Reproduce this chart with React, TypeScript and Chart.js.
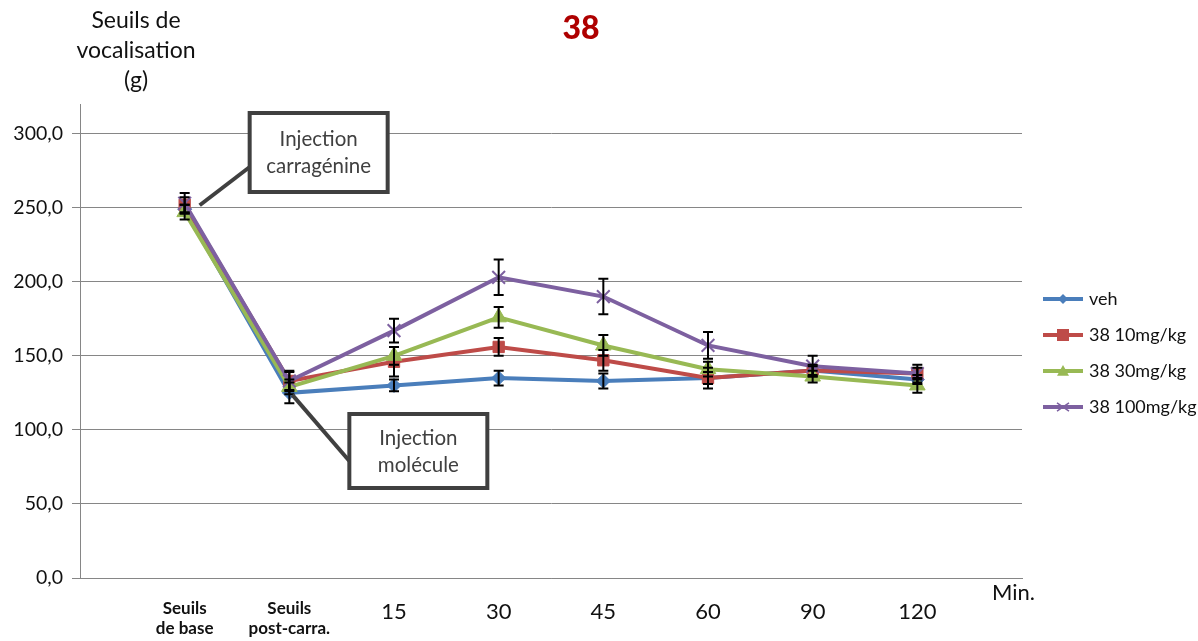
import React, { useEffect, useRef } from "react";
import { Chart, registerables } from "chart.js";

Chart.register(...registerables);

const categories: (string | string[])[] = [
  ["Seuils", "de base"],
  ["Seuils", "post-carra."],
  "15",
  "30",
  "45",
  "60",
  "90",
  "120",
];

const seriesNames = ["veh", "38 10mg/kg", "38 30mg/kg", "38 100mg/kg"];
const vehValues = [249, 125, 130, 135, 133, 135, 140, 134];
const mg10Values = [252, 133, 146, 156, 147, 135, 140, 138];
const mg30Values = [247, 129, 150, 176, 157, 141, 136, 130];
const mg100Values = [253, 133, 167, 203, 190, 157, 143, 138];

const vehErr = [3, 7, 4, 5, 5, 4, 3, 3];
const mg10Err = [5, 7, 10, 6, 7, 7, 4, 6];
const mg30Err = [5, 5, 6, 7, 7, 5, 4, 5];
const mg100Err = [7, 6, 8, 12, 12, 9, 7, 4];

const yTicks = [0, 50, 100, 150, 200, 250, 300];

const colors = ["#4A7EBB", "#BE4B48", "#98B954", "#7D60A0"];
const pointStyles = ["rectRot", "rect", "triangle", "crossRot"];
const pointRadii = [7, 8, 9, 9];

const FONT = "Lato, 'Open Sans', sans-serif";

function drawMarker(ctx: CanvasRenderingContext2D, style: string, x: number, y: number, r: number, color: string) {
  ctx.save();
  ctx.fillStyle = color;
  ctx.strokeStyle = color;
  ctx.beginPath();
  if (style === "rectRot") {
    ctx.moveTo(x, y - r);
    ctx.lineTo(x + r, y);
    ctx.lineTo(x, y + r);
    ctx.lineTo(x - r, y);
    ctx.closePath();
    ctx.fill();
  } else if (style === "rect") {
    ctx.rect(x - r, y - r, 2 * r, 2 * r);
    ctx.fill();
  } else if (style === "triangle") {
    ctx.moveTo(x, y - r);
    ctx.lineTo(x + r, y + r * 0.8);
    ctx.lineTo(x - r, y + r * 0.8);
    ctx.closePath();
    ctx.fill();
  } else {
    ctx.lineWidth = 1.5;
    ctx.moveTo(x - r, y - r * 0.7);
    ctx.lineTo(x + r, y + r * 0.7);
    ctx.moveTo(x - r, y + r * 0.7);
    ctx.lineTo(x + r, y - r * 0.7);
    ctx.stroke();
  }
  ctx.restore();
}

const errors = [vehErr, mg10Err, mg30Err, mg100Err];

const overlayPlugin = {
  id: "overlay",
  afterDatasetsDraw(chart: any) {
    const ctx = chart.ctx as CanvasRenderingContext2D;
    const xs = chart.scales.x;
    const ys = chart.scales.y;
    ctx.save();
    ctx.strokeStyle = "#000";
    ctx.lineWidth = 2;
    chart.data.datasets.forEach((ds: any, di: number) => {
      ds.data.forEach((v: number | null, i: number) => {
        if (v == null) return;
        const e = errors[di][i - 1];
        const x = xs.getPixelForValue(i);
        const yt = ys.getPixelForValue(v + e);
        const yb = ys.getPixelForValue(v - e);
        ctx.beginPath();
        ctx.moveTo(x, yt);
        ctx.lineTo(x, yb);
        ctx.moveTo(x - 5, yt);
        ctx.lineTo(x + 5, yt);
        ctx.moveTo(x - 5, yb);
        ctx.lineTo(x + 5, yb);
        ctx.stroke();
      });
    });
    ctx.restore();
  },
  afterDraw(chart: any) {
    const ctx = chart.ctx as CanvasRenderingContext2D;
    const xs = chart.scales.x;
    const ys = chart.scales.y;
    ctx.save();
    // Title
    ctx.fillStyle = "#AE0000";
    ctx.font = `900 32px ${FONT}`;
    ctx.textAlign = "center";
    ctx.textBaseline = "middle";
    ctx.fillText("38", 581, 29);
    // Y title
    ctx.fillStyle = "#111";
    ctx.font = `23px ${FONT}`;
    ctx.fillText("Seuils de", 136, 21);
    ctx.fillText("vocalisation", 136, 51);
    ctx.fillText("(g)", 136, 81);
    // Min.
    ctx.textAlign = "left";
    ctx.font = `22px ${FONT}`;
    ctx.fillText("Min.", 992, 593);

    // Annotations
    const drawBox = (left: number, top: number, w: number, h: number, lines: string[], fromX: number, fromY: number, toX: number, toY: number) => {
      ctx.strokeStyle = "#404040";
      ctx.lineWidth = 4;
      ctx.beginPath();
      ctx.moveTo(fromX, fromY);
      ctx.lineTo(toX, toY);
      ctx.stroke();
      ctx.fillStyle = "#fff";
      ctx.fillRect(left, top, w, h);
      ctx.strokeRect(left, top, w, h);
      ctx.fillStyle = "#404040";
      ctx.font = `20.5px ${FONT}`;
      ctx.textAlign = "center";
      ctx.textBaseline = "middle";
      lines.forEach((l, k) => ctx.fillText(l, left + w / 2, top + h / 2 - 13 + k * 27));
    };
    const p1x = xs.getPixelForValue(1);
    const p1y = ys.getPixelForValue(mg100Values[0]);
    drawBox(p1x + 65, 113, 138, 79, ["Injection", "carragénine"], p1x + 65, 167, p1x + 15, p1y + 2);
    const p2x = xs.getPixelForValue(2);
    const p2y = ys.getPixelForValue(vehValues[1]);
    drawBox(p2x + 60, 414, 138, 74, ["Injection", "molécule"], p2x + 60, 461, p2x + 3, p2y + 2);

    // Legend
    const ly0 = 299;
    seriesNames.forEach((name, i) => {
      const y = ly0 + i * 36;
      ctx.strokeStyle = colors[i];
      ctx.lineWidth = 4;
      ctx.beginPath();
      ctx.moveTo(1043, y);
      ctx.lineTo(1083, y);
      ctx.stroke();
      drawMarker(ctx, pointStyles[i], 1063, y, i === 0 ? 5 : 6, colors[i]);
      ctx.fillStyle = "#111";
      ctx.font = `18px ${FONT}`;
      ctx.textAlign = "left";
      ctx.textBaseline = "middle";
      ctx.fillText(name, 1089, y);
    });
    ctx.restore();
  },
};

export default function App() {
  const ref = useRef<HTMLCanvasElement>(null);
  useEffect(() => {
    if (!ref.current) return;
    const pad = (a: number[]) => [null, ...a, null];
    const all = [vehValues, mg10Values, mg30Values, mg100Values];
    const chart = new Chart(ref.current, {
      type: "line",
      data: {
        labels: ["", ...categories, ""],
        datasets: all.map((vals, i) => ({
          label: seriesNames[i],
          data: pad(vals),
          borderColor: colors[i],
          backgroundColor: colors[i],
          borderWidth: 4,
          pointStyle: pointStyles[i] as any,
          pointRadius: pointRadii[i],
          pointBorderWidth: i === 3 ? 2 : 1,
          pointBackgroundColor: colors[i],
          pointBorderColor: colors[i],
          tension: 0,
          order: 3 - i,
        })) as any,
      },
      options: {
        animation: false,
        responsive: false,
        layout: { padding: { left: 0, top: 104, right: 176, bottom: 0 } },
        plugins: {
          legend: { display: false },
          tooltip: { enabled: false },
          title: { display: false },
        },
        scales: {
          x: {
            type: "category",
            offset: false,
            grid: { display: false, drawTicks: false },
            border: { display: true, color: "#868686", width: 1 },
            ticks: {
              autoSkip: false,
              maxRotation: 0,
              minRotation: 0,
              padding: 21,
              color: "#111",
              font: (c: any) =>
                c.index <= 2
                  ? { family: FONT, size: 17, weight: "bold" as any, lineHeight: 1.15 }
                  : { family: FONT, size: 22, lineHeight: 1.2 },
            },
            afterFit: (s: any) => {
              s.height = 63;
            },
          },
          y: {
            min: 0,
            max: 320,
            grid: { color: "#868686", tickLength: 8, lineWidth: 1 },
            border: { display: true, color: "#868686", width: 1 },
            ticks: {
              stepSize: 50,
              padding: 9,
              color: "#111",
              font: { family: FONT, size: 19.5 },
              callback: (v: any) => Number(v).toFixed(1).replace(".", ","),
            },
            afterBuildTicks: (s: any) => {
              s.ticks = yTicks.map((v) => ({ value: v }));
            },
            afterFit: (s: any) => {
              s.width = 80;
            },
          },
        },
      },
      plugins: [overlayPlugin],
    });
    return () => chart.destroy();
  }, []);
  return (
    <div style={{ position: "fixed", left: 0, top: 0, width: 1198, height: 641, background: "#fff" }}>
      <canvas ref={ref} width={1198} height={641} style={{ width: 1198, height: 641 }} />
    </div>
  );
}
